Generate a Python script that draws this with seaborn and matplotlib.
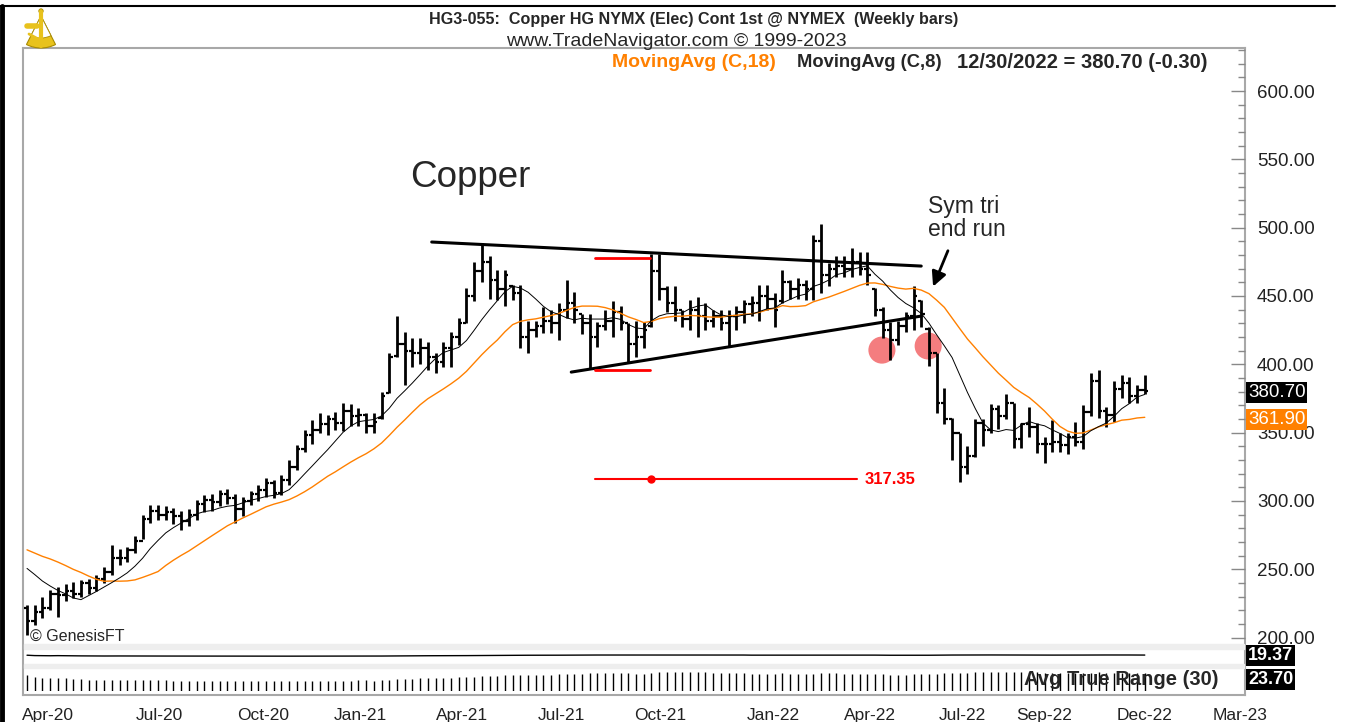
"""
Weekly copper bars (HG continuous) with 8/18 week moving averages,
symmetrical triangle annotations and an average true range strip.
"""
import numpy as np
import pandas as pd
import seaborn as sns
import matplotlib.pyplot as plt
import matplotlib.transforms as mtransforms
from matplotlib.lines import Line2D
from matplotlib.patches import Rectangle, Wedge, Circle

# weekly bars, Fri Mar 20 2020 .. Fri Dec 30 2022 (146 bars)
week_end = pd.date_range("2020-03-20", "2022-12-30", freq="W-FRI")

opens = [222, 212, 219, 222, 232, 231, 234, 232, 240, 236,
         243, 248, 258, 258, 264, 271, 287, 293, 290, 292,
         289, 285, 290, 298, 301, 299, 305, 302, 294, 300,
         305, 308, 313, 306, 315, 325, 338, 348, 352, 356,
         360, 357, 366, 362, 363, 355, 361, 379, 406, 415,
         410, 408, 412, 405, 402, 412, 420, 430, 450, 468,
         475, 462, 455, 457, 452, 420, 425, 428, 432, 430,
         440, 445, 437, 430, 420, 428, 432, 438, 430, 415,
         420, 428, 468, 455, 445, 440, 433, 440, 435, 432,
         435, 430, 435, 438, 444, 445, 450, 448, 446, 460,
         455, 458, 455, 490, 465, 470, 472, 470, 475, 470,
         455, 440, 425, 418, 428, 435, 446, 426, 408, 372,
         360, 350, 325, 333, 357, 352, 367, 362, 372, 345,
         356, 354, 342, 342, 343, 341, 347, 343, 365, 388,
         366, 363, 382, 386, 377, 381]
highs = [224, 224, 230, 235, 237, 239, 241, 242, 243, 246,
         252, 268, 265, 266, 274, 290, 297, 297, 296, 295,
         293, 294, 301, 304, 305, 308, 309, 305, 303, 307,
         312, 317, 315, 319, 330, 341, 352, 359, 364, 363,
         365, 372, 371, 368, 364, 364, 380, 408, 435, 424,
         419, 419, 416, 408, 416, 424, 434, 456, 475, 489,
         479, 469, 469, 458, 458, 432, 432, 442, 440, 445,
         462, 453, 437, 437, 431, 440, 446, 443, 430, 432,
         431, 481, 481, 457, 457, 440, 447, 449, 445, 440,
         440, 440, 443, 447, 450, 458, 458, 452, 469, 462,
         463, 462, 495, 503, 474, 479, 479, 485, 482, 482,
         456, 442, 431, 432, 438, 457, 447, 427, 408, 383,
         361, 350, 340, 360, 360, 371, 370, 378, 372, 357,
         369, 357, 347, 359, 350, 350, 358, 370, 394, 396,
         369, 388, 392, 391, 385, 392]
lows = [202, 209, 214, 220, 215, 227, 229, 230, 232, 234,
        240, 246, 253, 255, 262, 272, 284, 286, 286, 283,
        279, 282, 286, 292, 293, 296, 298, 284, 289, 297,
        300, 303, 302, 304, 312, 323, 336, 342, 350, 348,
        352, 351, 355, 355, 350, 350, 360, 379, 405, 385,
        398, 400, 396, 394, 398, 398, 414, 430, 446, 460,
        448, 447, 443, 447, 412, 408, 420, 423, 423, 418,
        434, 430, 422, 397, 413, 425, 420, 425, 402, 405,
        412, 427, 447, 438, 432, 427, 425, 420, 425, 427,
        425, 413, 425, 430, 435, 432, 440, 427, 445, 448,
        448, 447, 447, 452, 457, 464, 464, 464, 465, 458,
        435, 419, 403, 414, 424, 425, 427, 399, 364, 356,
        330, 314, 320, 332, 340, 350, 353, 360, 339, 339,
        347, 335, 328, 336, 336, 334, 340, 338, 362, 361,
        354, 358, 375, 372, 372, 378]
closes = [212, 219, 222, 232, 231, 234, 232, 240, 236, 243,
          248, 258, 258, 264, 271, 287, 293, 290, 292, 289,
          285, 290, 298, 301, 299, 305, 302, 294, 300, 305,
          308, 313, 306, 315, 325, 338, 348, 352, 356, 360,
          357, 366, 362, 363, 355, 358, 377, 405, 415, 410,
          408, 412, 405, 402, 412, 420, 430, 450, 468, 475,
          462, 455, 465, 452, 420, 425, 428, 432, 430, 440,
          445, 440, 430, 420, 428, 432, 438, 430, 415, 420,
          425, 468, 455, 445, 440, 433, 440, 435, 432, 435,
          430, 435, 438, 444, 445, 450, 448, 440, 460, 455,
          458, 455, 490, 465, 470, 472, 470, 475, 470, 465,
          440, 425, 418, 428, 435, 450, 437, 408, 372, 360,
          350, 325, 333, 357, 352, 367, 362, 372, 345, 356,
          354, 342, 342, 343, 341, 347, 343, 365, 388, 366,
          363, 382, 386, 377, 381, 380.7]
# closes of the 17 weeks before the first bar (only feed the averages)
prior_closes = [262, 265, 266, 272, 280, 282, 281, 284, 285, 274,
                255, 260, 261, 257, 254, 256, 250]

month_labels = ["Apr-20", "Jul-20", "Oct-20", "Jan-21", "Apr-21", "Jul-21",
                "Oct-21", "Jan-22", "Apr-22", "Jul-22", "Sep-22", "Dec-22",
                "Mar-23"]
price_ticks = [200, 250, 300, 350, 400, 450, 500, 550, 600]
target_price = 317.35
last_text = "12/30/2022 = 380.70 (-0.30)"
ma_fast_text = "380.70"
ma_slow_text = "361.90"
range_text = "19.37"
atr_text = "23.70"

W, H = 1348, 722
ORANGE = "#ff8000"


def fx(p):
    return p / W


def fy(p):
    return 1 - p / H


def build_frame():
    df = pd.DataFrame({"date": week_end, "open": opens, "high": highs,
                       "low": lows, "close": closes})
    df["i"] = np.arange(len(df))
    allc = pd.Series(prior_closes + closes)
    n0 = len(prior_closes)
    df["ma8"] = allc.rolling(8).mean().iloc[n0:].values
    df["ma18"] = allc.rolling(18).mean().iloc[n0:].values
    prev = df["close"].shift(1)
    tr = np.maximum(df["high"], prev.fillna(df["high"])) - np.minimum(df["low"], prev.fillna(df["low"]))
    df["atr"] = tr.rolling(30, min_periods=1).mean()
    df["rng"] = (df["high"] - df["low"]).rolling(30, min_periods=1).mean()
    return df


def draw_logo(fig):
    # rough golden sextant in the top-left corner
    lg = fig.add_axes([fx(24), fy(56), 34 / W, 48 / H])
    lg.set_xlim(0, 34)
    lg.set_ylim(0, 48)
    lg.axis("off")
    gold, dark = "#e8c21c", "#a88a00"
    lg.add_patch(Wedge((17, 40), 32, 243, 297, fc=gold, ec=dark, lw=0.8))
    lg.add_patch(Wedge((17, 40), 22, 243, 297, fc="white", ec=dark, lw=0.6))
    lg.plot([17, 17], [10, 44], color=gold, lw=3)
    lg.plot([3, 13], [30, 30], color=gold, lw=4)
    lg.plot([5, 16], [22, 16], color=gold, lw=2)
    lg.add_patch(Circle((17, 45), 2.2, fc=gold, ec=dark, lw=0.6))


def draw(df):
    sns.set_theme(style="white")
    plt.rcParams["font.family"] = ["Liberation Sans", "DejaVu Sans"]
    fig = plt.figure(figsize=(W / 100, H / 100), dpi=100)

    xlim = (-0.52, 158.0)

    # outer frame behind everything
    frame = fig.add_axes([fx(23), fy(695), (1245 - 23) / W, (695 - 48) / H])
    frame.set_xticks([])
    frame.set_yticks([])
    for s in frame.spines.values():
        s.set_color("#a8a8a8")
        s.set_linewidth(1.5)
    frame.patch.set_alpha(0)

    for top, bot in [(644, 649), (664, 668)]:
        fig.patches.append(Rectangle((fx(24), fy(bot)), (1244 - 24) / W, (bot - top) / H,
                                     transform=fig.transFigure, color="#eeeeee", zorder=0))

    ax = fig.add_axes([fx(23), fy(644), (1245 - 23) / W, (644 - 48) / H])
    ax.patch.set_alpha(0)
    for s in ax.spines.values():
        s.set_visible(False)

    x = df["i"].values
    ax.scatter([110.9, 116.9], [410.4, 413.4], s=380, color="#f36f71",
               edgecolors="none", alpha=0.9, zorder=1)
    ax.vlines(x, df["low"], df["high"], color="black", lw=2.0, zorder=3)
    ax.hlines(df["open"], x - 0.45, x, color="black", lw=1.6, zorder=3)
    ax.hlines(df["close"], x, x + 0.45, color="black", lw=1.6, zorder=3)

    sns.lineplot(x=x, y=df["ma18"].values, color=ORANGE, lw=1.0, ax=ax, zorder=4)
    sns.lineplot(x=x, y=df["ma8"].values, color="black", lw=0.7, ax=ax, zorder=4)

    # symmetrical triangle
    ax.plot([52.5, 116.0], [489.5, 471.9], color="black", lw=2.2, zorder=5)
    ax.plot([70.6, 116.0], [394.3, 435.3], color="black", lw=2.2, zorder=5)
    ax.plot([73.7, 80.8], [477.8, 477.8], color="red", lw=2, zorder=5)
    ax.plot([73.7, 80.8], [395.8, 395.8], color="red", lw=2, zorder=5)
    ax.plot([73.7, 107.7], [target_price - 1.5] * 2, color="red", lw=1.5, zorder=5)
    ax.plot([80.9], [target_price - 1.5], "o", color="red", ms=5, zorder=5)
    ax.text(108.7, target_price - 1.5, f"{target_price:.2f}", color="red",
            fontsize=12, weight="bold", va="center", ha="left")

    ax.text(49.7, 537, "Copper", fontsize=26.5, va="center", ha="left")
    ax.text(116.9, 507, "Sym tri\nend run", fontsize=16.5, va="center", ha="left",
            linespacing=1.0)
    ax.annotate("", xy=(117.4, 455.0), xytext=(119.6, 485.0),
                arrowprops=dict(arrowstyle="-|>", color="black", lw=2,
                                mutation_scale=22))
    ax.text(0.006, 8 / 596, "© GenesisFT", transform=ax.transAxes, fontsize=11.5,
            va="center", ha="left")

    ax.set_xlim(*xlim)
    ax.set_ylim(195.3, 631.5)
    ax.set_xticks([])
    ax.yaxis.tick_right()
    ax.set_yticks(price_ticks)
    ax.set_yticklabels([])
    ax.set_yticks(np.arange(200, 631, 10), minor=True)
    ax.tick_params(axis="y", which="major", direction="in", length=10, width=1,
                   color="#888888", right=True)
    ax.tick_params(axis="y", which="minor", direction="in", length=5, width=1,
                   color="#888888", right=True)
    ax.set_xlabel("")
    ax.set_ylabel("")

    blend = mtransforms.blended_transform_factory(ax.transAxes, ax.transData)
    lab_x = 1 + 12 / 1222
    for v in price_ticks:
        ax.text(lab_x, v, f"{v:.2f}", transform=blend, fontsize=13.5, color="#222222",
                va="center_baseline", ha="left")
    box_x = 1 + 3 / 1222
    ax.text(box_x, df["close"].iloc[-1], ma_fast_text, transform=blend, color="white",
            fontsize=13.5, va="center_baseline", ha="left",
            bbox=dict(boxstyle="square,pad=0.1", fc="black", ec="none"))
    ax.text(box_x, df["ma18"].iloc[-1], ma_slow_text, transform=blend, color="white",
            fontsize=13.5, va="center_baseline", ha="left",
            bbox=dict(boxstyle="square,pad=0.1", fc=ORANGE, ec="none"))

    # range line strip
    pa = fig.add_axes([fx(23), fy(664), (1245 - 23) / W, (664 - 649) / H])
    pa.patch.set_alpha(0)
    for s in pa.spines.values():
        s.set_visible(False)
    sns.lineplot(x=x, y=df["rng"].values, color="black", lw=1.0, ax=pa)
    pa.set_xlim(*xlim)
    pa.set_ylim(-60, 80)
    pa.set_xticks([])
    pa.set_yticks([])
    pa.set_xlabel("")
    pa.set_ylabel("")
    pa.text(box_x, 0.55, range_text, transform=pa.transAxes, color="white", fontsize=13,
            weight="bold", va="center", ha="left",
            bbox=dict(boxstyle="square,pad=0.12", fc="black", ec="none"))

    # average true range strip
    pb = fig.add_axes([fx(23), fy(691), (1245 - 23) / W, (691 - 668) / H])
    pb.patch.set_alpha(0)
    for s in pb.spines.values():
        s.set_visible(False)
    pb.vlines(x, 0, df["atr"].values, color="black", lw=1.0)
    pb.set_xlim(*xlim)
    pb.set_ylim(0, 31)
    pb.set_yticks([])
    pb.set_xticks([2.7, 17.2, 30.6, 43.2, 56.4, 69.3, 82.1, 96.8, 109.3,
                   121.4, 132.0, 145.0, 157.3])
    pb.set_xticklabels(month_labels)
    pb.tick_params(axis="x", length=0, labelsize=12.5, labelcolor="#222222", pad=12)
    pb.text((1218 - 23) / 1222, 0.5, "Avg True Range (30)", transform=pb.transAxes,
            fontsize=14.5, weight="bold", ha="right", va="center")
    pb.text(box_x, 0.5, atr_text, transform=pb.transAxes, color="white", fontsize=13,
            weight="bold", va="center", ha="left",
            bbox=dict(boxstyle="square,pad=0.12", fc="black", ec="none"))

    # header
    fig.text(fx(694), fy(19.5), "HG3-055:  Copper HG NYMX (Elec) Cont 1st @ NYMEX  (Weekly bars)",
             fontsize=11.6, weight="bold", ha="center", va="center")
    fig.text(fx(676), fy(41), "www.TradeNavigator.com © 1999-2023", fontsize=14,
             ha="center", va="center")
    fig.text(fx(612), fy(62.5), "MovingAvg (C,18)", color=ORANGE, fontsize=14,
             weight="bold", ha="left", va="center")
    fig.text(fx(797), fy(62.5), "MovingAvg (C,8)", fontsize=13.2, weight="bold",
             ha="left", va="center")
    fig.text(fx(957), fy(62.5), last_text, fontsize=14.5, weight="bold",
             ha="left", va="center")

    draw_logo(fig)

    # black window border
    fig.add_artist(Line2D([fx(2), fx(2)], [0, fy(6)], transform=fig.transFigure,
                          color="black", lw=3.5))
    fig.add_artist(Line2D([0, fx(1335)], [fy(5.5), fy(5.5)], transform=fig.transFigure,
                          color="black", lw=1.5))
    return fig


def main():
    df = build_frame()
    fig = draw(df)
    fig.savefig("out.png", dpi=100)
    plt.close(fig)


if __name__ == "__main__":
    main()
